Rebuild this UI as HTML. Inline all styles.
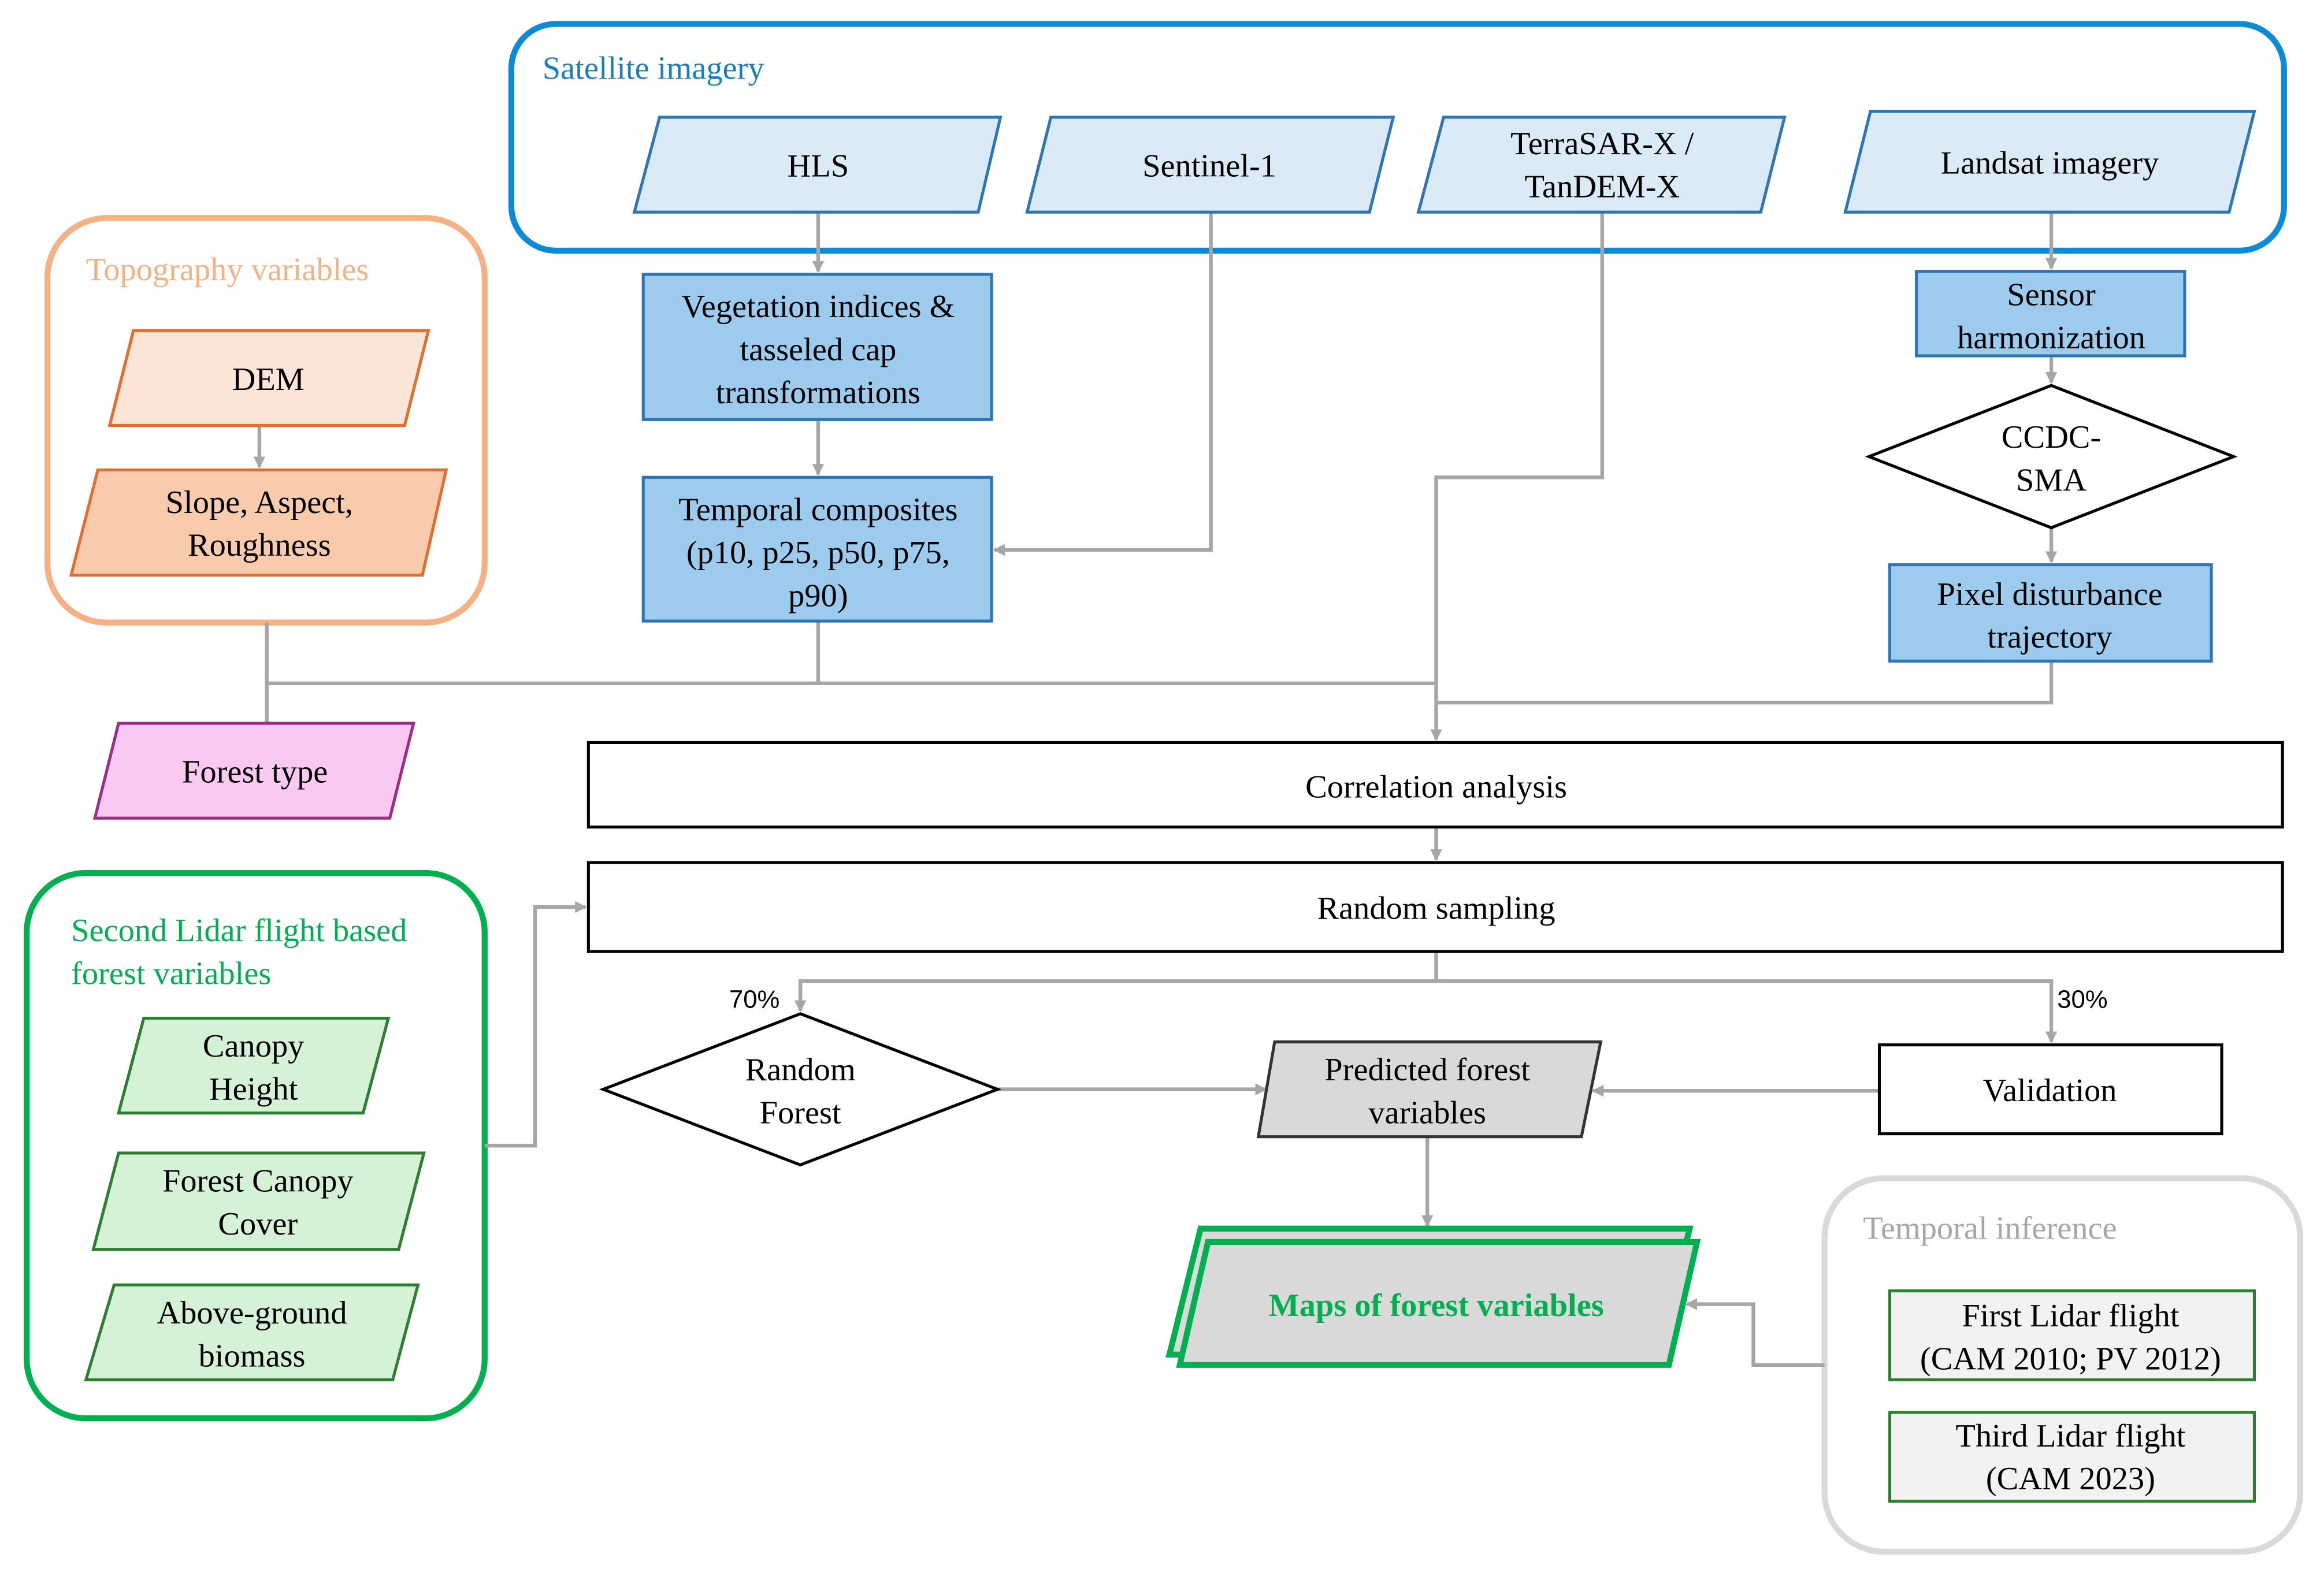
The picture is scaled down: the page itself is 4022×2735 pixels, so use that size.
<!DOCTYPE html>
<html><head><meta charset="utf-8"><style>
html,body{margin:0;padding:0;background:#fff;}
svg{display:block;}
svg text{font-family:"Liberation Serif","Times New Roman","DejaVu Serif",serif;font-size:22px;fill:#000;}
svg text.s{font-family:"Liberation Sans","DejaVu Sans",sans-serif;font-size:17px;}
</style></head><body>
<svg width="4022" height="2735" viewBox="0 0 1568 1066" xmlns="http://www.w3.org/2000/svg" font-family="Liberation Serif, Times New Roman, DejaVu Serif, serif">
<defs><marker id="a" markerWidth="8" markerHeight="8" refX="7" refY="4" orient="auto" markerUnits="userSpaceOnUse"><path d="M0,0 L8,4 L0,8 z" fill="#a6a6a6"/></marker></defs>
<rect width="1568" height="1066" fill="#fff"/>
<rect x="345" y="16" width="1196" height="153" rx="30" fill="none" stroke="#0a8ad8" stroke-width="4"/>
<text x="366" y="53" style="fill:#1a7fc1">Satellite  imagery</text>
<rect x="32" y="147" width="295" height="273" rx="40" fill="none" stroke="#f4b183" stroke-width="4"/>
<text x="58" y="189" style="fill:#f4b183">Topography variables</text>
<rect x="18" y="589" width="309" height="368" rx="40" fill="none" stroke="#00b050" stroke-width="4"/>
<text x="48" y="635" style="fill:#00b050">Second Lidar  flight  based</text>
<text x="48" y="664" style="fill:#00b050">forest variables</text>
<rect x="1231" y="795" width="321" height="252" rx="40" fill="none" stroke="#d9d9d9" stroke-width="4"/>
<text x="1257" y="836" style="fill:#a6a6a6">Temporal inference</text>
<g stroke="#a6a6a6" stroke-width="2.5" fill="none">
<path d="M552 143V183" marker-end="url(#a)"/>
<path d="M552 283V320" marker-end="url(#a)"/>
<path d="M817 143V371H671" marker-end="url(#a)"/>
<path d="M1081 143V322H969V499" marker-end="url(#a)"/>
<path d="M1384 143V181" marker-end="url(#a)"/>
<path d="M1384 240V258" marker-end="url(#a)"/>
<path d="M1384 356V379" marker-end="url(#a)"/>
<path d="M1384 446V474H969"/>
<path d="M175 287V315" marker-end="url(#a)"/>
<path d="M180 420V488M180 461H969M552 419V461"/>
<path d="M969 558V580" marker-end="url(#a)"/>
<path d="M969 642V662H540V682M540 662H1384V703" marker-end="url(#a)"/>
<path d="M540 662V682" marker-end="url(#a)"/>
<path d="M327 773H361V612H395" marker-end="url(#a)"/>
<path d="M673 735H854" marker-end="url(#a)"/>
<path d="M1268 736H1075" marker-end="url(#a)"/>
<path d="M963 767V827" marker-end="url(#a)"/>
<path d="M1231 921H1183V880H1138" marker-end="url(#a)"/>
</g>
<text class="s" x="492" y="680">70%</text>
<text class="s" x="1388" y="680">30%</text>
<g stroke="#2e75b6" stroke-width="2" fill="#daeaf7">
<polygon points="445,79 675,79 660,143 428,143"/>
<polygon points="709,79 940,79 924,143 693,143"/>
<polygon points="974,79 1204,79 1188,143 957,143"/>
<polygon points="1262,75 1521,75 1504,143 1245,143"/>
</g>
<text x="552" y="119" text-anchor="middle">HLS</text>
<text x="816" y="119" text-anchor="middle">Sentinel-1</text>
<text x="1081" y="104" text-anchor="middle">TerraSAR-X /</text>
<text x="1081" y="133" text-anchor="middle">TanDEM-X</text>
<text x="1383" y="117" text-anchor="middle">Landsat imagery</text>
<g stroke="#2e75b6" stroke-width="2" fill="#9dcbee">
<rect x="434" y="185" width="235" height="98"/>
<rect x="434" y="322" width="235" height="97"/>
<rect x="1293" y="183" width="181" height="57"/>
<rect x="1275" y="381" width="217" height="65"/>
</g>
<text x="552" y="214" text-anchor="middle">Vegetation indices &amp;</text>
<text x="552" y="243" text-anchor="middle">tasseled cap</text>
<text x="552" y="272" text-anchor="middle">transformations</text>
<text x="552" y="351" text-anchor="middle">Temporal composites</text>
<text x="552" y="380" text-anchor="middle">(p10, p25, p50, p75,</text>
<text x="552" y="409" text-anchor="middle">p90)</text>
<text x="1384" y="206" text-anchor="middle">Sensor</text>
<text x="1384" y="235" text-anchor="middle">harmonization</text>
<text x="1383" y="408" text-anchor="middle">Pixel disturbance</text>
<text x="1383" y="437" text-anchor="middle">trajectory</text>
<polygon points="1261,308 1384,260 1507,308 1384,356" fill="#fff" stroke="#000" stroke-width="2"/>
<text x="1384" y="302" text-anchor="middle">CCDC-</text>
<text x="1384" y="331" text-anchor="middle">SMA</text>
<polygon points="90,223 289,223 273,287 74,287" fill="#fbe5d6" stroke="#e46c2c" stroke-width="2"/>
<text x="181" y="263" text-anchor="middle">DEM</text>
<polygon points="66,317 301,317 285,388 48,388" fill="#f8cbad" stroke="#e46c2c" stroke-width="2"/>
<text x="175" y="346" text-anchor="middle">Slope, Aspect,</text>
<text x="175" y="375" text-anchor="middle">Roughness</text>
<polygon points="80,488 279,488 263,552 64,552" fill="#f9c9f1" stroke="#9b2d87" stroke-width="2"/>
<text x="172" y="528" text-anchor="middle">Forest type</text>
<rect x="397" y="501" width="1143" height="57" fill="#fff" stroke="#000" stroke-width="2"/>
<text x="969" y="538" text-anchor="middle">Correlation analysis</text>
<rect x="397" y="582" width="1143" height="60" fill="#fff" stroke="#000" stroke-width="2"/>
<text x="969" y="620" text-anchor="middle">Random sampling</text>
<polygon points="407,735 540,684 673,735 540,786" fill="#fff" stroke="#000" stroke-width="2"/>
<text x="540" y="729" text-anchor="middle">Random</text>
<text x="540" y="758" text-anchor="middle">Forest</text>
<polygon points="860,703 1080,703 1067,767 849,767" fill="#d9d9d9" stroke="#333" stroke-width="2"/>
<text x="963" y="729" text-anchor="middle">Predicted forest</text>
<text x="963" y="758" text-anchor="middle">variables</text>
<rect x="1268" y="705" width="231" height="60" fill="#fff" stroke="#000" stroke-width="2"/>
<text x="1383" y="743" text-anchor="middle">Validation</text>
<g stroke="#2e7d32" stroke-width="2" fill="#d6f2d6">
<polygon points="97,687 262,687 245,751 80,751"/>
<polygon points="80,778 286,778 269,843 63,843"/>
<polygon points="77,867 282,867 265,931 58,931"/>
</g>
<text x="171" y="713" text-anchor="middle">Canopy</text>
<text x="171" y="742" text-anchor="middle">Height</text>
<text x="174" y="804" text-anchor="middle">Forest Canopy</text>
<text x="174" y="833" text-anchor="middle">Cover</text>
<text x="170" y="893" text-anchor="middle">Above-ground</text>
<text x="170" y="922" text-anchor="middle">biomass</text>
<polygon points="810,829 1140,829 1119,914 789,914" fill="#d9d9d9" stroke="#00b050" stroke-width="4"/>
<polygon points="815,838 1145,838 1126,921 796,921" fill="#d9d9d9" stroke="#00b050" stroke-width="4"/>
<text x="969" y="888" text-anchor="middle" style="fill:#00b050;font-weight:bold">Maps of forest variables</text>
<rect x="1275" y="871" width="246" height="60" fill="#f2f2f2" stroke="#2e7d32" stroke-width="2"/>
<text x="1397" y="895" text-anchor="middle">First Lidar flight</text>
<text x="1397" y="924" text-anchor="middle">(CAM 2010; PV 2012)</text>
<rect x="1275" y="953" width="246" height="60" fill="#f2f2f2" stroke="#2e7d32" stroke-width="2"/>
<text x="1397" y="976" text-anchor="middle">Third Lidar flight</text>
<text x="1397" y="1005" text-anchor="middle">(CAM 2023)</text>
</svg>
</body></html>
